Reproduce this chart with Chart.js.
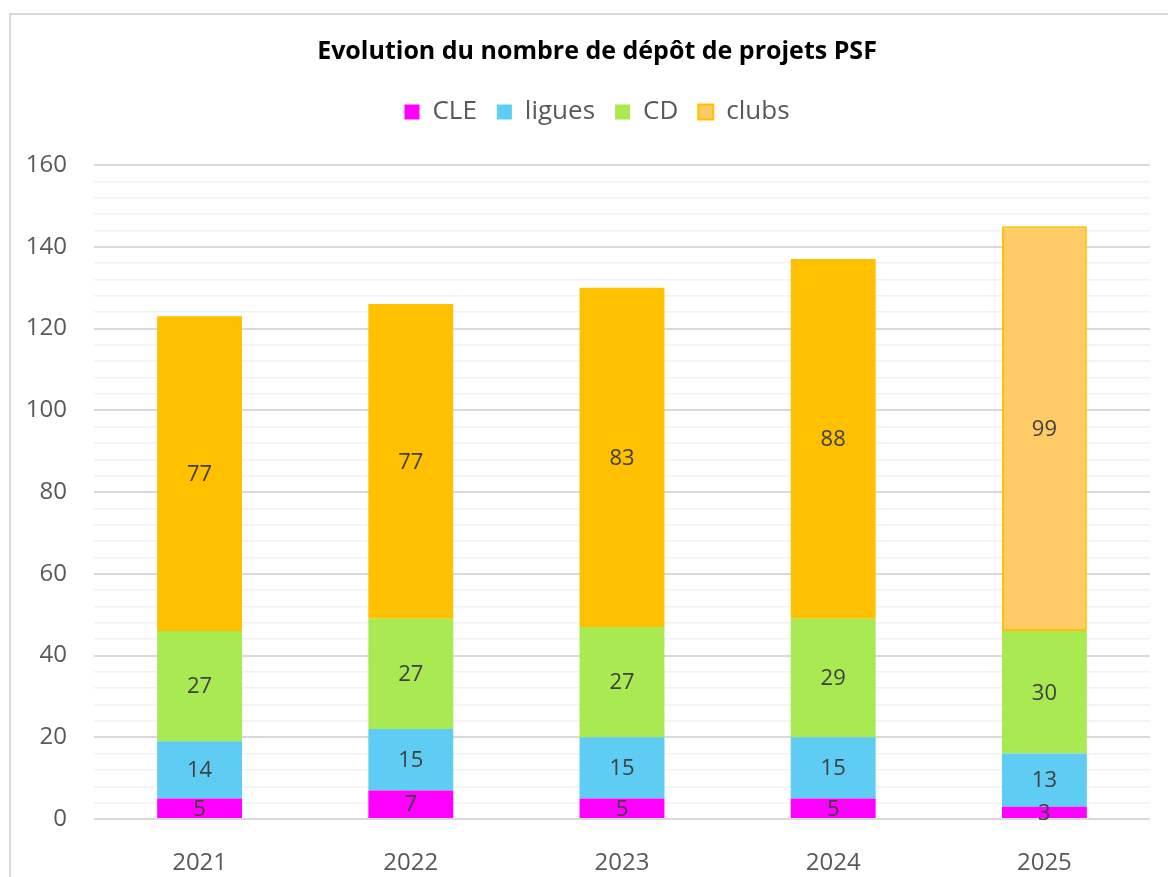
<!DOCTYPE html>
<html>
<head>
<meta charset="utf-8">
<script src="https://cdn.jsdelivr.net/npm/chart.js@4"></script>
<style>
  html, body { margin: 0; padding: 0; background: #ffffff; width: 1168px; height: 877px; overflow: hidden; }
  #frame { position: absolute; left: 9px; top: 13px; width: 1174px; height: 864px; border-left: 2px solid #d9d9d9; border-top: 2px solid #d9d9d9; background: #fff; }
  #wrap { position: absolute; left: 0; top: 0; width: 1172px; height: 862px; }
</style>
</head>
<body>
<div id="frame"><div id="wrap"><canvas id="c" width="1172" height="862"></canvas></div></div>
<script>
const categories = ['2021', '2022', '2023', '2024', '2025'];
const cleValues = [5, 7, 5, 5, 3];
const liguesValues = [14, 15, 15, 15, 13];
const cdValues = [27, 27, 27, 29, 30];
const clubsValues = [77, 77, 83, 88, 99];
const seriesNames = ['CLE', 'ligues', 'CD', 'clubs'];
const titleText = 'Evolution du nombre de dépôt de projets PSF';

const FONT = "'Open Sans', 'Liberation Sans', sans-serif";

const labelPlugin = {
  id: 'segLabels',
  afterDatasetsDraw(chart) {
    const ctx = chart.ctx;
    ctx.save();
    ctx.font = "22px " + FONT;
    ctx.fillStyle = '#404040';
    ctx.textAlign = 'center';
    ctx.textBaseline = 'middle';
    chart.data.datasets.forEach((ds, i) => {
      const meta = chart.getDatasetMeta(i);
      meta.data.forEach((el, j) => {
        const p = el.getProps(['x', 'y', 'base'], true);
        ctx.fillText(String(ds.data[j]), p.x, (p.y + p.base) / 2 + 1);
      });
    });
    ctx.restore();
  }
};

const legendHeightPlugin = {
  id: 'legendHeight',
  beforeInit(chart) {
    const orig = chart.legend.fit;
    chart.legend.fit = function () {
      orig.call(this);
      this.height = 86;
    };
  }
};

new Chart(document.getElementById('c'), {
  type: 'bar',
  data: {
    labels: categories,
    datasets: [
      { label: seriesNames[0], data: cleValues, backgroundColor: '#FF00FF', borderWidth: 0 },
      { label: seriesNames[1], data: liguesValues, backgroundColor: '#5ECCF3', borderWidth: 0 },
      { label: seriesNames[2], data: cdValues, backgroundColor: '#A9EA52', borderWidth: 0 },
      { label: seriesNames[3], data: clubsValues,
        backgroundColor: ['#FFC000', '#FFC000', '#FFC000', '#FFC000', '#FFCB66'],
        borderColor: ['#FFC000', '#FFC000', '#FFC000', '#FFC000', '#FFC000'],
        borderWidth: [0, 0, 0, 0, 2], borderSkipped: false }
    ]
  },
  options: {
    responsive: false,
    animation: false,
    devicePixelRatio: 1,
    layout: { padding: { left: 0, right: 0, top: 0, bottom: 0 } },
    datasets: { bar: { categoryPercentage: 1, barPercentage: 0.402 } },
    plugins: {
      title: {
        display: true, text: titleText, color: '#000000',
        font: { family: FONT, size: 25, weight: 'bold', lineHeight: 1.2 },
        padding: { top: 22, bottom: 12 }
      },
      legend: {
        display: true, position: 'top',
        labels: {
          color: '#595959', font: { family: FONT, size: 26 },
          boxWidth: 15, boxHeight: 15, padding: 20,
          generateLabels(chart) {
            const fills = ['#FF00FF', '#5ECCF3', '#A9EA52', '#FFCB66'];
            const strokes = ['#FF00FF', '#5ECCF3', '#A9EA52', '#FFC000'];
            return chart.data.datasets.map((ds, i) => ({
              text: ds.label, fillStyle: fills[i], strokeStyle: strokes[i],
              lineWidth: i === 3 ? 2 : 0, fontColor: '#595959', hidden: false, datasetIndex: i
            }));
          }
        }
      },
      tooltip: { enabled: false }
    },
    scales: {
      x: {
        stacked: true,
        grid: { display: false },
        border: { display: false },
        ticks: { color: '#595959', font: { family: FONT, size: 24 }, padding: 21.6, maxRotation: 0 },
        afterFit(scale) { scale.height = 58; }
      },
      y: {
        stacked: true,
        min: 0, max: 160,
        border: { display: false },
        grid: {
          drawTicks: false,
          color: (c) => (c.tick && c.tick.value % 20 === 0) ? '#d9d9d9' : '#f2f2f2',
          lineWidth: (c) => (c.tick && c.tick.value % 20 === 0) ? 2 : 1.5
        },
        ticks: {
          stepSize: 4, autoSkip: false, color: '#595959',
          font: { family: FONT, size: 24 }, padding: 27,
          callback: (v) => (v % 20 === 0 ? String(v) : '')
        },
        afterFit(scale) { scale.width = 83; }
      },
      yRight: {
        type: 'linear', position: 'right', display: true,
        min: 0, max: 160,
        grid: { display: false, drawTicks: false },
        border: { display: false },
        ticks: { display: false },
        afterFit(scale) { scale.width = 33; }
      }
    }
  },
  plugins: [labelPlugin, legendHeightPlugin]
});
</script>
</body>
</html>
